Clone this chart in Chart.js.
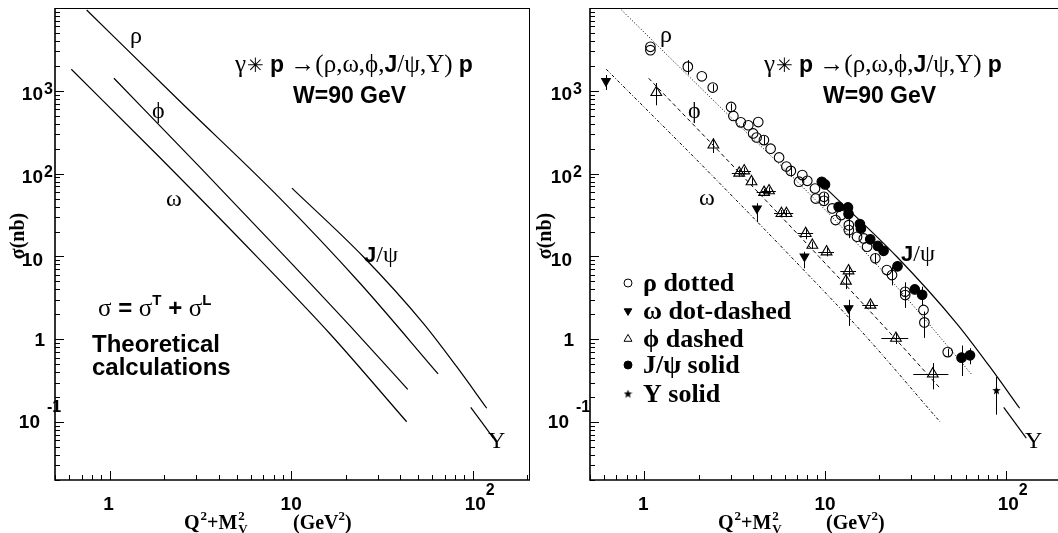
<!DOCTYPE html>
<html><head><meta charset="utf-8">
<script src="https://cdn.jsdelivr.net/npm/chart.js@4/dist/chart.umd.min.js"></script>
<style>
html,body{margin:0;padding:0;background:#fff;overflow:hidden;width:1058px;height:533px;}
#wrap{position:relative;width:1058px;height:533px;overflow:hidden;background:#fff;}
canvas{position:absolute;top:0;}
#c1{left:0;} #c2{left:535px;}
</style></head><body>
<div id="wrap"><canvas id="c1" width="535" height="533"></canvas><canvas id="c2" width="535" height="533"></canvas></div>
<script>
// ---------------- DATA ----------------
const xRange = [0.5, 207];
const yRange = [0.02, 10000];
const xTickValues = [1, 10, 100];
const yTickValues = [0.1, 1, 10, 100, 1000];

// theoretical curves: Q^2+M_V^2 (GeV^2) vs sigma (nb)
const rhoCurveX   = [0.747, 2.43, 8.66, 23.9, 64.5];
const rhoCurveY   = [9460, 753, 50.6, 4.78, 0.382];
const phiCurveX   = [1.056, 3.14, 9.23, 21.1, 43.9];
const phiCurveY   = [1419, 119.8, 10.03, 1.45, 0.249];
const omegaCurveX = [0.615, 1.89, 6.45, 16.4, 43.3];
const omegaCurveY = [1822, 156.8, 10.03, 1.159, 0.101];
const jpsiCurveX  = [10.1, 25.0, 53.5, 81.7, 119.6];
const jpsiCurveY  = [66.9, 9.92, 1.56, 0.467, 0.147];
const upsCurveX   = [97.6, 130.1];
const upsCurveY   = [0.151, 0.064];

// measurements
const rhoX = [1.08,1.08,1.74,2.08,2.39,3.02,3.11,3.42,3.76,4.27,4.00,4.18,4.59,5.00,5.57,6.11,6.47,7.49,7.18,7.98,8.80,8.88,9.87,9.87,10.96,11.45,12.29,13.55,13.55,15.05,16.4,17.1,19.0,22.0,23.5,27.8,27.8,35.1,35.5,47.8];
const rhoY = [3400,3100,1958,1496,1094,639,497,416,384,420,306,273,254,200,157,122,108,96,80,82,66,50,52.5,47,38,27.5,31.6,23.9,20.8,17.3,16.5,13.1,9.5,6.86,5.97,3.75,3.42,2.26,1.60,0.70];
const rhoErr = [0,0,0.2,0,0.1,0.1,0,0,0,0,0,0,0.12,0,0,0,0.15,0,0,0,0,0,0.12,0.1,0,0,0,0.2,0.2,0,0,0,0.15,0,0.25,0.3,0.3,0,0.35,0.1];

const jpsiX = [9.6,10.0,11.9,13.4,13.5,15.6,15.8,17.8,19.6,21.1,25.2,31.4,34.5,57,63.5];
const jpsiY = [79.6,74.1,39.8,39.1,32.5,24.6,21.8,16.1,13.4,11.7,7.6,4.0,3.45,0.60,0.64];
const jpsiErr = [0.1,0.1,0.1,0.1,0.1,0.1,0.1,0.1,0.1,0.1,0.12,0.12,0.25,0.4,0.22];

const phiX = [1.164,2.41,3.35,3.57,3.92,4.60,4.90,5.74,6.12,7.82,8.51,10.2,13.5,13.06,17.85,24.7,39.5];
const phiY = [956,222,101.8,108.4,80,59.5,62.2,33.1,33.1,19.0,13.7,11.4,6.72,5.05,2.59,1.03,0.382];
const phiErr = [0.3,0.2,0.1,0.1,0.1,0.1,0.1,0.1,0.1,0.15,0.1,0.12,0.15,0.2,0.1,0.15,0.35];
const phiXErr = [0,0,0.09,0.09,0,0.09,0.09,0.09,0.09,0.1,0,0.1,0.1,0,0.1,0.17,0.22];

const omegaX = [0.613, 4.2, 7.7, 13.5];
const omegaY = [1310, 38, 10, 2.37];
const omegaLo = [1025, 26, 7.2, 1.45];
const omegaHi = [1550, 44, 11.4, 3.0];

const upsX = [89];
const upsY = [0.24];
const upsLo = [0.123];
const upsHi = [0.35];

// ---------------- STYLE HELPERS ----------------
const SANS = '"Liberation Sans", Arial, Helvetica, sans-serif';
const SERIF = '"Liberation Serif", "Times New Roman", Times, "DejaVu Serif", serif';
const PHI = '\u03D5';
const pts = (xs, ys) => xs.map((x, i) => ({x, y: ys[i]}));

function starImage(size){
  const c = document.createElement('canvas'); c.width = c.height = size;
  const g = c.getContext('2d'); g.fillStyle = '#000'; g.beginPath();
  const cx = size/2, cy = size/2, R = size/2, r = R*0.42;
  for (let i = 0; i < 10; i++) {
    const a = -Math.PI/2 + i*Math.PI/5, rr = i % 2 ? r : R;
    g.lineTo(cx + rr*Math.cos(a), cy + rr*Math.sin(a));
  }
  g.closePath(); g.fill(); return c;
}
const STAR = starImage(9);

function rich(ctx, x, y, parts){
  let cx = x;
  for (const p of parts) {
    ctx.font = p.f;
    ctx.fillText(p.t, cx + (p.dx||0), y + (p.dy||0));
    cx += ctx.measureText(p.t).width + (p.dx||0);
  }
  return cx;
}

function curveDS(xs, ys, dash, w){
  return {data: pts(xs, ys), showLine: true, pointRadius: 0, borderColor: '#000',
    borderWidth: w, borderDash: dash, cubicInterpolationMode: 'monotone', fill: false, order: 2};
}

// ---------------- PLUGIN ----------------
const paper = {
  id: 'paper',
  beforeDatasetsDraw(chart, args, o) {
    if (o.panel !== 'right') return;
    const ctx = chart.ctx, xs = chart.scales.x, ys = chart.scales.y, a = chart.chartArea;
    ctx.save();
    ctx.beginPath(); ctx.rect(a.left, a.top, a.right - a.left, a.bottom - a.top); ctx.clip();
    ctx.strokeStyle = '#000'; ctx.lineWidth = 1; ctx.beginPath();
    const vb = (x, lo, hi) => { const px = Math.round(xs.getPixelForValue(x)) + 0.5; ctx.moveTo(px, ys.getPixelForValue(lo)); ctx.lineTo(px, ys.getPixelForValue(hi)); };
    const hb = (y, lo, hi) => { const py = Math.round(ys.getPixelForValue(y)) + 0.5; ctx.moveTo(xs.getPixelForValue(lo), py); ctx.lineTo(xs.getPixelForValue(hi), py); };
    rhoX.forEach((x, i) => { if (rhoErr[i]) vb(x, rhoY[i]*(1-rhoErr[i]), rhoY[i]*(1+rhoErr[i])); });
    jpsiX.forEach((x, i) => { if (jpsiErr[i]) vb(x, jpsiY[i]*(1-jpsiErr[i]), jpsiY[i]*(1+jpsiErr[i])); });
    phiX.forEach((x, i) => {
      if (phiErr[i]) vb(x, phiY[i]*(1-phiErr[i]), phiY[i]*(1+phiErr[i]));
      if (phiXErr[i]) hb(phiY[i], x*(1-phiXErr[i]), x*(1+phiXErr[i]));
    });
    omegaX.forEach((x, i) => vb(x, omegaLo[i], omegaHi[i]));
    upsX.forEach((x, i) => vb(x, upsLo[i], upsHi[i]));
    ctx.stroke(); ctx.restore();
  },
  afterDraw(chart, args, o) {
    const ctx = chart.ctx, xs = chart.scales.x, ys = chart.scales.y, a = chart.chartArea;
    const right = o.panel === 'right';
    ctx.save();
    ctx.strokeStyle = '#000'; ctx.fillStyle = '#000';
    // frame
    ctx.lineWidth = 1;
    ctx.beginPath();
    ctx.moveTo(a.left, a.top + 0.5); ctx.lineTo(a.right, a.top + 0.5);
    ctx.moveTo(a.right - 0.5, a.top); ctx.lineTo(a.right - 0.5, a.bottom);
    ctx.stroke();
    ctx.lineWidth = 1.6;
    ctx.beginPath();
    ctx.moveTo(a.left, a.top); ctx.lineTo(a.left, a.bottom);
    ctx.lineTo(a.right, a.bottom);
    ctx.stroke();
    // ticks
    ctx.lineWidth = 1;
    ctx.beginPath();
    for (let e = -2; e <= 4; e++) for (let m = 1; m <= 9; m++) {
      const v = m * Math.pow(10, e);
      if (v < yRange[0] - 1e-9 || v > yRange[1] + 1e-9) continue;
      const py = Math.round(ys.getPixelForValue(v)) + 0.5, L = m === 1 ? 9 : 5;
      ctx.moveTo(a.left, py); ctx.lineTo(a.left + L, py);
    }
    for (let e = -1; e <= 2; e++) for (let m = 1; m <= 9; m++) {
      const v = m * Math.pow(10, e);
      if (v < xRange[0] - 1e-9 || v > xRange[1] + 1e-9) continue;
      const px = Math.round(xs.getPixelForValue(v)) + 0.5, L = m === 1 ? 9 : 5;
      ctx.moveTo(px, a.bottom); ctx.lineTo(px, a.bottom - L);
    }
    ctx.stroke();

    // y tick labels
    const s = right ? -6 : 0;
    const F = `bold 19px ${SANS}`, FS = `bold 16px ${SANS}`;
    ctx.textBaseline = 'alphabetic';
    yTickValues.forEach(v => {
      const py = ys.getPixelForValue(v);
      const e = Math.round(Math.log10(v));
      ctx.font = F;
      if (e === 0) { ctx.textAlign = 'right'; ctx.fillText('1', a.left - 10 + s, py + 7); ctx.textAlign = 'left'; return; }
      ctx.textAlign = 'right';
      if (e === 1) { ctx.fillText('10', a.left - 12 + s, py + 10); ctx.textAlign = 'left'; return; }
      if (e < 0) {
        ctx.fillText('10', a.left - 15 + s, py + 6);
        ctx.textAlign = 'left'; ctx.font = FS;
        ctx.fillText('-1', a.left - 8 + s, py - 10);
        return;
      }
      ctx.fillText('10', a.left - 12 + s, py + 9);
      ctx.textAlign = 'left'; ctx.font = FS;
      ctx.fillText(String(e), a.left - 11 + s, py + 3);
    });
    // x tick labels
    xTickValues.forEach(v => {
      const px = xs.getPixelForValue(v);
      const e = Math.round(Math.log10(v));
      ctx.font = F; ctx.textAlign = 'center';
      if (e === 0) ctx.fillText('1', px - 1, 510);
      else if (e === 1) ctx.fillText('10', px, 510);
      else {
        ctx.textAlign = 'left'; ctx.fillText('10', px - 8, 510);
        ctx.font = FS; ctx.fillText(String(e), px + 13, 495);
      }
    });
    ctx.textAlign = 'left';

    // axis titles
    const T20 = `bold 20px ${SERIF}`, T13 = `bold 13px ${SERIF}`;
    let x0 = 184 + (right ? -1 : 0);
    ctx.font = T20; ctx.fillText('Q', x0, 529); x0 += ctx.measureText('Q').width;
    ctx.font = T13; ctx.fillText('2', x0 + 1, 520); x0 += ctx.measureText('2').width + 1;
    ctx.font = T20; ctx.fillText('+M', x0, 529); x0 += ctx.measureText('+M').width;
    ctx.font = T13; ctx.fillText('2', x0 + 1, 520); ctx.fillText('V', x0 + 1, 533);
    rich(ctx, 293 + (right ? -2 : 0), 529, [{t: '(GeV', f: T20}, {t: '2', f: T13, dy: -9}, {t: ')', f: T20}]);

    ctx.save();
    ctx.translate(right ? 16 : 24, 236);
    ctx.rotate(-Math.PI/2);
    ctx.textAlign = 'center';
    ctx.font = `bold 20px ${SERIF}`;
    ctx.fillText('\u03C3(nb)', 0, 0);
    ctx.restore();

    // annotations
    const G = `24px ${SERIF}`, GT = `25px ${SERIF}`, SB23 = `bold 23px ${SANS}`, SB22 = `bold 22px ${SANS}`;
    const P = right ? {rho:[125,42], phi:[153,118], om:[164,205], jp:[366,261], up:[490,448], ti:[229,72], w:[288,103]}
                    : {rho:[130,43], phi:[152,118], om:[166,206], jp:[364,262], up:[488,448], ti:[235,72], w:[293,103]};
    ctx.font = G;
    ctx.fillText('\u03C1', P.rho[0], P.rho[1]);
    ctx.fillText(PHI, P.phi[0], P.phi[1]);
    ctx.fillText('\u03C9', P.om[0], P.om[1]);
    ctx.fillText('\u03A5', P.up[0], P.up[1]);
    rich(ctx, P.jp[0], P.jp[1], [{t: 'J', f: SB22}, {t: '/\u03C8', f: G}]);
    rich(ctx, P.ti[0], P.ti[1], [
      {t: '\u03B3', f: GT}, {t: '\u2733', f: `20px "DejaVu Sans", sans-serif`, dx: 1}, {t: ' ', f: GT},
      {t: 'p', f: SB23}, {t: ' \u2192(\u03C1,\u03C9,' + PHI + ',', f: GT}, {t: 'J', f: SB23},
      {t: '/\u03C8,\u03A5) ', f: GT}, {t: 'p', f: SB23}]);
    ctx.font = SB23; ctx.fillText('W=90 GeV', P.w[0], P.w[1]);

    if (!right) {
      const sg = `25px ${SERIF}`, b24 = `bold 24px ${SANS}`, b15 = `bold 15px ${SANS}`;
      rich(ctx, 98, 316, [
        {t: '\u03C3', f: sg}, {t: ' = ', f: b24}, {t: '\u03C3', f: sg}, {t: 'T', f: b15, dy: -11},
        {t: ' + ', f: b24}, {t: '\u03C3', f: sg}, {t: 'L', f: b15, dy: -11}]);
      ctx.font = b24;
      ctx.fillText('Theoretical', 92, 352);
      ctx.fillText('calculations', 92, 375);
    } else {
      // legend
      const LF = `bold 26px ${SERIF}`;
      const rows = [
        {st: 'circle', rot: 0, r: 4, fill: false, txt: '\u03C1 dotted', b: 291},
        {st: 'triangle', rot: 180, r: 4.4, fill: true, txt: '\u03C9 dot-dashed', b: 319},
        {st: 'triangle', rot: 0, r: 4.6, fill: false, txt: PHI + ' dashed', b: 347},
        {st: 'circle', rot: 0, r: 4, fill: true, txt: 'J/\u03C8 solid', b: 373},
        {st: STAR, rot: 0, r: 3, fill: true, txt: '\u03A5 solid', b: 402}];
      rows.forEach(rw => {
        ctx.fillStyle = rw.fill ? '#000' : 'rgba(0,0,0,0)'; ctx.strokeStyle = '#000'; ctx.lineWidth = 1;
        Chart.helpers.drawPoint(ctx, {pointStyle: rw.st, rotation: rw.rot, radius: rw.r, borderWidth: 1}, 93, rw.b - 8);
        ctx.fillStyle = '#000'; ctx.font = LF; ctx.fillText(rw.txt, 108, rw.b);
      });
    }
    ctx.restore();
  }
};

function baseOptions(panel){
  return {
    responsive: false, animation: false, devicePixelRatio: 1, events: [],
    layout: {padding: {left: 55, right: 5, top: 8, bottom: 53}},
    scales: {
      x: {type: 'logarithmic', min: xRange[0], max: xRange[1], display: false},
      y: {type: 'logarithmic', min: yRange[0], max: yRange[1], display: false}
    },
    plugins: {legend: {display: false}, tooltip: {enabled: false}, paper: {panel}}
  };
}

// left panel: theory only
new Chart(document.getElementById('c1'), {
  type: 'scatter',
  data: {datasets: [
    curveDS(rhoCurveX, rhoCurveY, [], 1.2),
    curveDS(phiCurveX, phiCurveY, [], 1.2),
    curveDS(omegaCurveX, omegaCurveY, [], 1.2),
    curveDS(jpsiCurveX, jpsiCurveY, [], 1.2),
    curveDS(upsCurveX, upsCurveY, [], 1.2)
  ]},
  options: baseOptions('left'),
  plugins: [paper]
});

// right panel: theory + data
const mk = (xs, ys, style, r, fill, rot) => ({
  data: pts(xs, ys), showLine: false, pointStyle: style, pointRadius: r, pointRotation: rot || 0,
  pointBorderWidth: 1.1, pointBorderColor: '#000', pointBackgroundColor: fill ? '#000' : 'rgba(0,0,0,0)', order: 1
});
new Chart(document.getElementById('c2'), {
  type: 'scatter',
  data: {datasets: [
    curveDS(rhoCurveX, rhoCurveY, [1, 2], 1),
    curveDS(phiCurveX, phiCurveY, [4, 3], 1),
    curveDS(omegaCurveX, omegaCurveY, [3, 2, 1, 2], 1),
    curveDS(jpsiCurveX, jpsiCurveY, [], 1.2),
    curveDS(upsCurveX, upsCurveY, [], 1.2),
    mk(rhoX, rhoY, 'circle', 4.8, false),
    mk(jpsiX, jpsiY, 'circle', 4.8, true),
    mk(phiX, phiY, 'triangle', 6.2, false),
    mk(omegaX, omegaY, 'triangle', 5, true, 180),
    mk(upsX, upsY, STAR, 4.5, true)
  ]},
  options: baseOptions('right'),
  plugins: [paper]
});
</script>
</body></html>
